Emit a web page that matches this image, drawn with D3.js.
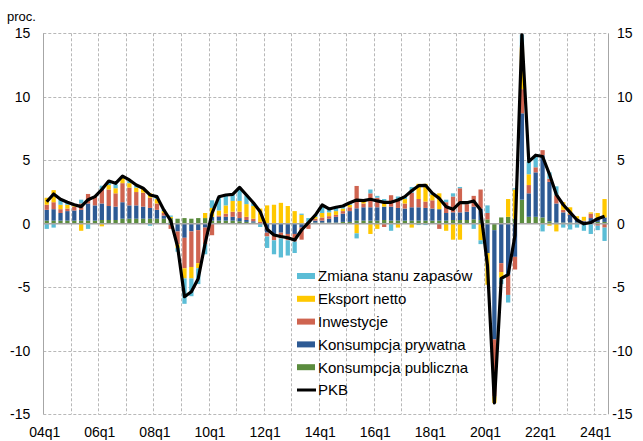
<!DOCTYPE html>
<html><head><meta charset="utf-8">
<script src="https://cdn.jsdelivr.net/npm/d3@7"></script>
<style>html,body{margin:0;padding:0;background:#fff;} svg{display:block;font-family:"Liberation Sans",Arial,sans-serif;}</style>
</head><body><svg id="c" width="643" height="441"></svg>
<script>
const quarters = ["04q1","04q2","04q3","04q4","05q1","05q2","05q3","05q4","06q1","06q2","06q3","06q4",
"07q1","07q2","07q3","07q4","08q1","08q2","08q3","08q4","09q1","09q2","09q3","09q4",
"10q1","10q2","10q3","10q4","11q1","11q2","11q3","11q4","12q1","12q2","12q3","12q4",
"13q1","13q2","13q3","13q4","14q1","14q2","14q3","14q4","15q1","15q2","15q3","15q4",
"16q1","16q2","16q3","16q4","17q1","17q2","17q3","17q4","18q1","18q2","18q3","18q4",
"19q1","19q2","19q3","19q4","20q1","20q2","20q3","20q4","21q1","21q2","21q3","21q4",
"22q1","22q2","22q3","22q4","23q1","23q2","23q3","23q4","24q1","24q2"];

const konsPubliczna = [.25,.25,.25,.25,.25,.25,.25,.25,.3,.3,.3,.4,
.4,.4,.4,.4,.4,.4,.45,.4,.45,.4,.45,.45,
.25,.25,.25,.25,.2,.15,.1,.05,0,0,.05,.05,
.05,.05,.1,.1,.1,.1,.1,.15,.15,.25,.25,.25,
.25,.3,.25,.25,.25,.25,.25,.25,.25,.25,.25,.3,
.3,.3,.35,.3,.35,-.5,.5,.55,.4,1.9,.55,.55,
.5,.2,.1,.1,.1,.1,.1,.15,.15,.15];

const konsPrywatna = [.85,.9,.6,.75,.8,.85,1.35,1.2,1.3,1.1,1.05,1.3,
1.05,1.05,.95,.85,.7,.25,-.1,-.6,-1.1,-.6,-.5,-.3,
.3,.3,.3,.3,.25,.15,.1,0,-.7,-.8,-.7,-.8,
-.8,-.3,.05,.15,.15,.3,.45,.65,.85,.97,1.05,1.05,
1.05,1.05,1.1,1.0,.95,1.05,1.05,1.0,.95,.9,.6,.6,
.6,.65,1.0,.9,-2.3,-8.6,-3.1,-4.0,-2.6,6.8,1.85,3.5,
4.9,3.1,1.5,.8,.6,.25,.1,.3,.3,.35];

const inwestycje = [.4,.55,.3,.2,.3,.5,.75,.7,1.1,1.3,1.05,1.5,
1.4,1.05,1.1,.8,.5,.2,-.3,-1.0,-2.4,-2.8,-2.6,-1.3,
-.9,.1,.25,.4,.5,.25,.2,.1,-.3,-.5,-.45,-.5,
-.6,-.95,-.4,.15,.25,.2,.15,.2,.3,1.76,.3,1.1,
.75,-.25,.9,.6,.4,1.15,.65,.5,.65,-.4,.85,1.25,
1.9,.6,.85,1.5,.5,-4.5,-.7,-1.6,-1.0,1.9,.65,.4,
.4,.25,.65,.2,.1,.05,.05,.35,-.15,-.3];

const eksportNetto = [.55,.95,.35,.3,.1,-.55,0,0,-.2,.35,.4,.4,
.35,.35,.35,.35,.35,.15,.1,-.3,-.8,-.9,-.4,.4,
.7,.4,.65,.85,.85,1.0,1.0,1.05,1.45,1.5,1.6,1.35,
.95,.65,0,.15,.35,.3,.3,.2,.2,-.75,.2,-.8,
-.4,.45,0,-.3,.35,-.3,1.2,1.4,.45,1.25,-.55,-1.25,
-1.25,0,0,-1.3,-2.5,-.5,-.45,1.4,2.3,3.3,.85,0,
0,-.15,-.6,.6,.5,.2,.3,.1,.4,1.45];

const zapasy = [-.4,-.3,.4,.2,.05,.3,-.4,0,.3,.3,.3,.15,
.2,.15,0,-.15,.2,.1,.1,-.3,-2.0,-1.4,-1.25,-.8,
.6,1.05,.8,.5,1.05,.7,.25,-.25,-.9,-1.1,-1.5,-1.2,
-.9,.1,.3,.15,.6,.25,.3,.2,.15,-.4,0,.3,
.15,.15,-.55,.3,.2,.45,-.1,-.1,.1,0,.2,.25,
.1,.1,-.4,-.3,.6,0,-.5,-.6,.1,1.0,1.0,.9,
-.6,.5,.7,-.3,-.45,-.3,-.55,-.8,-.35,-1.05];

const pkb = [1.74,2.35,1.93,1.7,1.5,1.35,1.9,2.14,2.7,3.37,3.19,3.76,
3.45,3.05,2.8,2.27,2.14,1.09,.25,-1.8,-5.74,-5.35,-4.3,-1.54,
.83,2.13,2.27,2.32,2.87,2.27,1.66,.95,-.43,-.88,-1.0,-1.1,
-1.28,-.49,.09,.69,1.48,1.17,1.3,1.4,1.66,1.87,1.82,1.93,
1.8,1.69,1.69,1.87,2.14,2.6,3.0,3.03,2.4,2.0,1.35,1.14,
1.66,1.66,1.8,1.09,-3.3,-14.1,-4.3,-4.0,-.9,14.9,4.9,5.4,
5.3,3.9,2.3,1.5,.9,.3,0,.1,.4,.6];

const yTicks = [-15,-10,-5,0,5,10,15];
const xTickLabels = ["04q1","06q1","08q1","10q1","12q1","14q1","16q1","18q1","20q1","22q1","24q1"];
const stackKeys = ["Konsumpcja publiczna","Konsumpcja prywatna","Inwestycje","Eksport netto","Zmiana stanu zapasów"];
const stackColors = ["#5b8c3e","#2d5a94","#cf6450","#ffc800","#5bbdd6"];
const legendOrder = ["Zmiana stanu zapasów","Eksport netto","Inwestycje","Konsumpcja prywatna","Konsumpcja publiczna","PKB"];

const seriesArrays = [konsPubliczna, konsPrywatna, inwestycje, eksportNetto, zapasy];
const rows = quarters.map((q,i)=>{const o={q:q}; stackKeys.forEach((k,j)=>o[k]=seriesArrays[j][i]); return o;});

const L=43.3, R=608, T=33.3, B=414.3;
const FONT = "Liberation Sans, Arial, sans-serif";
const svg = d3.select("#c");
const x = d3.scaleBand().domain(quarters).range([L,R]).paddingInner(0.38).paddingOuter(0.19);
const y = d3.scaleLinear().domain([-15,15]).range([B,T]);
const step = x.step(), bw = x.bandwidth();
const slotStart = q => x(q) - step*0.19;
const color = d3.scaleOrdinal().domain(stackKeys).range(stackColors);

// grid
const grid = svg.append("g");
grid.selectAll("line.h").data(yTicks.filter(v=>v!==0)).join("line")
  .attr("x1",L).attr("x2",R).attr("y1",d=>Math.round(y(d))+0.5).attr("y2",d=>Math.round(y(d))+0.5)
  .attr("stroke","#b8b8b8").attr("stroke-width",1).attr("stroke-dasharray","3,2");
const yearStarts = quarters.filter((q,i)=>i>0 && q.endsWith("q1"));
grid.selectAll("line.v").data(yearStarts).join("line")
  .attr("x1",d=>Math.round(slotStart(d))+0.5).attr("x2",d=>Math.round(slotStart(d))+0.5)
  .attr("y1",T).attr("y2",B)
  .attr("stroke","#b8b8b8").attr("stroke-width",1).attr("stroke-dasharray","3,2");

// axes lines
svg.append("line").attr("x1",Math.round(L)+0.5).attr("x2",Math.round(L)+0.5).attr("y1",T).attr("y2",B).attr("stroke","#a6a6a6");
svg.append("line").attr("x1",Math.round(R)+0.5).attr("x2",Math.round(R)+0.5).attr("y1",T).attr("y2",B).attr("stroke","#a6a6a6");

// bars
const stacked = d3.stack().keys(stackKeys).offset(d3.stackOffsetDiverging)(rows);
svg.append("clipPath").attr("id","plot").append("rect").attr("x",L).attr("y",T).attr("width",R-L).attr("height",B-T);
const barsG = svg.append("g").attr("clip-path","url(#plot)");
barsG.selectAll("g").data(stacked).join("g").attr("fill",d=>color(d.key))
  .selectAll("rect").data(d=>d).join("rect")
  .attr("x",d=>x(d.data.q)).attr("width",bw)
  .attr("y",d=>y(Math.max(d[0],d[1]))).attr("height",d=>Math.abs(y(d[0])-y(d[1])));

// zero line
svg.append("line").attr("x1",L).attr("x2",R).attr("y1",y(0)).attr("y2",y(0)).attr("stroke","#a6a6a6").attr("stroke-width",1.5);

// PKB line
const line = d3.line().x((v,i)=>x(quarters[i])+bw/2).y(v=>y(v));
svg.append("g").attr("clip-path","url(#plot)").append("path").datum(pkb).attr("d",line)
  .attr("fill","none").attr("stroke","#000").attr("stroke-width",3.2).attr("stroke-linejoin","round");

// axis labels
const fmt = d => String(d);
const ax = svg.append("g").attr("transform",`translate(${L},0)`)
  .call(d3.axisLeft(y).tickValues(yTicks).tickSize(0).tickPadding(13).tickFormat(fmt));
ax.select(".domain").remove();
ax.selectAll("text").attr("font-size","14px").attr("fill","#000").attr("font-family",FONT);

const axR = svg.append("g").attr("transform",`translate(${R},0)`)
  .call(d3.axisRight(y).tickValues(yTicks).tickSize(0).tickPadding(9).tickFormat(fmt));
axR.select(".domain").remove();
axR.selectAll("text").attr("font-size","14px").attr("fill","#000").attr("font-family",FONT)
  .attr("dx",d=> d<0 ? -4.7 : 0);

const axB = svg.append("g")
  .call(d3.axisBottom(x).tickValues(xTickLabels).tickSize(0));
axB.select(".domain").remove();
axB.selectAll("text").attr("y",437).attr("dy",null).attr("dx",-2).attr("font-size","14px").attr("fill","#000")
  .attr("font-family",FONT);

svg.append("text").attr("x",7).attr("y",21).attr("font-size","13px").attr("fill","#000").text("proc.");

// legend
const lg = svg.append("g").attr("transform","translate(297,276)");
legendOrder.forEach((k,i)=>{
  const g = lg.append("g").attr("transform",`translate(0,${i*22.8})`);
  if(k==="PKB"){
    g.append("line").attr("x1",0).attr("x2",19).attr("y1",0).attr("y2",0).attr("stroke","#000").attr("stroke-width",3);
  } else {
    g.append("rect").attr("x",0).attr("y",-3).attr("width",18).attr("height",6).attr("fill",color(k));
  }
  g.append("text").attr("x",21).attr("y",0).attr("dy","0.36em").attr("font-size","15px").attr("fill","#000").text(k);
});
</script></body></html>
